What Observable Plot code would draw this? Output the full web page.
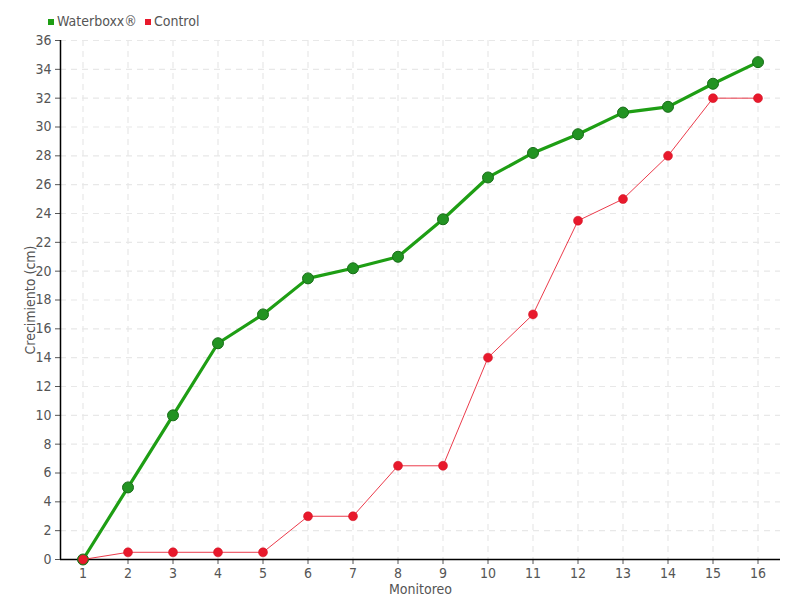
<!DOCTYPE html>
<html><head><meta charset="utf-8">
<script src="https://cdn.jsdelivr.net/npm/d3@7"></script>
<script src="https://cdn.jsdelivr.net/npm/@observablehq/plot@0.6"></script>
<style>
body{margin:0;background:#fff;font-family:"DejaVu Sans Condensed","DejaVu Sans",sans-serif;}
#wrap{position:relative;width:800px;height:600px;}
#legend{position:absolute;left:48px;top:13px;font-size:14px;color:#555;display:flex;gap:8px;align-items:center;}
#legend span.sw{display:inline-block;width:6px;height:6px;margin-right:3px;vertical-align:middle;}
</style></head>
<body><div id="wrap"><div id="legend"></div></div>
<script>
const monitoreo = [1,2,3,4,5,6,7,8,9,10,11,12,13,14,15,16];
const waterboxx = [0,5,10,15,17,19.5,20.2,21,23.6,26.5,28.2,29.5,31,31.4,33,34.5];
const control = [0,0.5,0.5,0.5,0.5,3,3,6.5,6.5,14,17,23.5,25,28,32,32];
const yTicks = d3.range(0,37,2);
const series = ["Waterboxx®","Control"];
const colors = ["#1e9e14","#e8192c"];

const wb = monitoreo.map((m,i)=>({m, v: waterboxx[i]}));
const ct = monitoreo.map((m,i)=>({m, v: control[i]}));

const leg = document.getElementById("legend");
series.forEach((s,i)=>{
  const d=document.createElement("div");
  d.innerHTML=`<span class="sw" style="background:${colors[i]}"></span>${s}`;
  leg.appendChild(d);
});

const chart = Plot.plot({
  width: 800, height: 600,
  marginLeft: 60, marginRight: 20, marginTop: 40, marginBottom: 41,
  style: {fontFamily: '"DejaVu Sans Condensed","DejaVu Sans",sans-serif', fontSize: "13px", color: "#555", background: "transparent"},
  x: {domain: [0.5, 16.5]},
  y: {domain: [0, 36]},
  marks: [
    Plot.ruleY(yTicks.filter(d=>d>0), {stroke: "#e8e8e8", strokeDasharray: "6,5", strokeWidth: 1.2}),
    Plot.ruleX(monitoreo, {stroke: "#e8e8e8", strokeDasharray: "6,5", strokeWidth: 1.2}),
    Plot.axisX({ticks: monitoreo, tickFormat: d=>String(d), label: "Monitoreo", labelAnchor: "center", labelArrow: "none", labelOffset: 34, tickSize: 5, fontSize: 14}),
    Plot.axisY({ticks: yTicks, label: "Crecimiento (cm)", labelAnchor: "center", labelArrow: "none", labelOffset: 35, tickSize: 5, fontSize: 14}),
    Plot.ruleY([0], {stroke: "#000", strokeWidth: 1.5}),
    Plot.ruleX([0.5], {stroke: "#000", strokeWidth: 1.5}),
    Plot.line(wb, {x: "m", y: "v", stroke: colors[0], strokeWidth: 3.2}),
    Plot.dot(wb, {x: "m", y: "v", r: 5.5, fill: "#229322", stroke: "#186e18", strokeWidth: 1}),
    Plot.line(ct, {x: "m", y: "v", stroke: colors[1], strokeWidth: 1, strokeOpacity: 0.85}),
    Plot.dot(ct, {x: "m", y: "v", r: 4.5, fill: colors[1], stroke: "#d01020", strokeWidth: 0.5})
  ]
});
document.getElementById("wrap").appendChild(chart);
</script>
</body></html>
